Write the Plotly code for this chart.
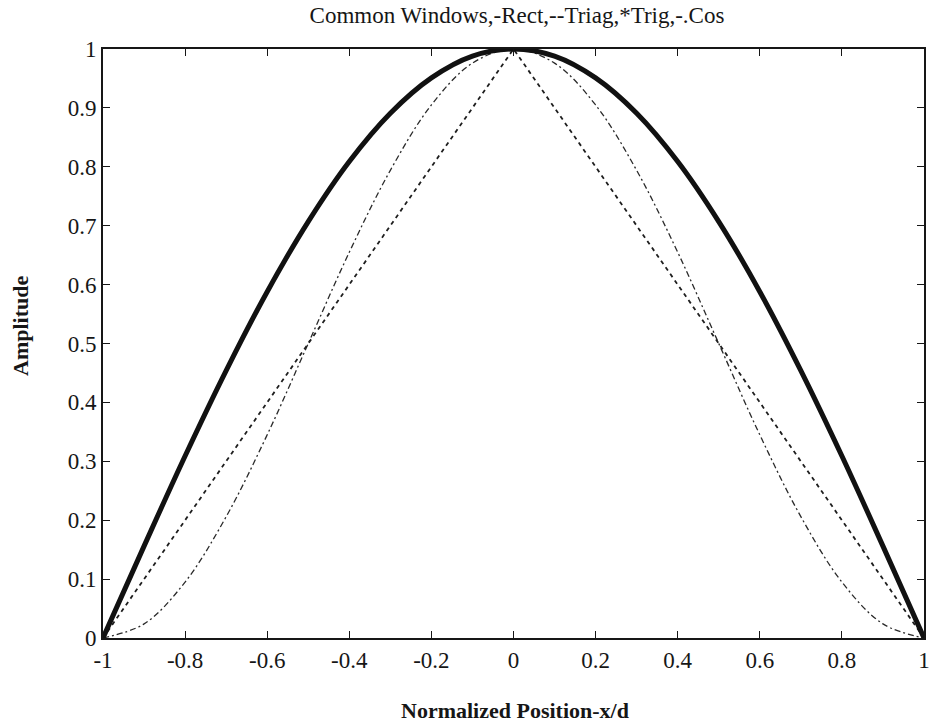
import plotly.graph_objects as go

# Sample positions along the normalized aperture
x_pos = [-1.0, -0.9, -0.8, -0.7, -0.6, -0.5, -0.4, -0.3, -0.2, -0.1, 0.0,
         0.1, 0.2, 0.3, 0.4, 0.5, 0.6, 0.7, 0.8, 0.9, 1.0]

# Trig (cosine) window - heavy solid curve
trig_win = [0.0, 0.156, 0.309, 0.454, 0.588, 0.707, 0.809, 0.891, 0.951, 0.988, 1.0,
            0.988, 0.951, 0.891, 0.809, 0.707, 0.588, 0.454, 0.309, 0.156, 0.0]

# Triangular window - dashed
triag_win = [0.0, 0.1, 0.2, 0.3, 0.4, 0.5, 0.6, 0.7, 0.8, 0.9, 1.0,
             0.9, 0.8, 0.7, 0.6, 0.5, 0.4, 0.3, 0.2, 0.1, 0.0]

# Raised-cosine window - dash-dot
cos_win = [0.0, 0.024, 0.095, 0.206, 0.345, 0.5, 0.655, 0.794, 0.905, 0.976, 1.0,
           0.976, 0.905, 0.794, 0.655, 0.5, 0.345, 0.206, 0.095, 0.024, 0.0]

x_ticks = [-1, -0.8, -0.6, -0.4, -0.2, 0, 0.2, 0.4, 0.6, 0.8, 1]
x_tick_text = ["-1", "-0.8", "-0.6", "-0.4", "-0.2", "0", "0.2", "0.4", "0.6", "0.8", "1"]
y_ticks = [0, 0.1, 0.2, 0.3, 0.4, 0.5, 0.6, 0.7, 0.8, 0.9, 1]
y_tick_text = ["0", "0.1", "0.2", "0.3", "0.4", "0.5", "0.6", "0.7", "0.8", "0.9", "1"]

FONT = "Liberation Serif"
INK = "#161616"

W, H = 931, 723
ML, MR, MT, MB = 103, 7, 49, 85

fig = go.Figure()
fig.add_trace(go.Scatter(x=x_pos, y=cos_win, mode="lines", line_shape="spline",
                         line=dict(color="#2a2a2a", width=1.3, dash="6px,3px,2px,3px"),
                         showlegend=False))
fig.add_trace(go.Scatter(x=x_pos, y=triag_win, mode="lines",
                         line=dict(color="#1e1e1e", width=1.8, dash="4px,4px"),
                         showlegend=False))
fig.add_trace(go.Scatter(x=x_pos, y=trig_win, mode="lines", line_shape="spline",
                         line=dict(color="#111111", width=5),
                         showlegend=False))

fig.update_layout(
    width=W, height=H,
    margin=dict(l=ML, r=MR, t=MT, b=MB, autoexpand=False),
    paper_bgcolor="white", plot_bgcolor="white",
    font=dict(family=FONT, size=23, color=INK),
    title=dict(text="Common Windows,-Rect,--Triag,*Trig,-.Cos",
               x=517 / W, xanchor="center", y=1 - 15 / H, yanchor="middle",
               font=dict(family=FONT, size=23, color=INK)),
    annotations=[
        dict(text="<b>Normalized Position-x/d</b>", xref="paper", yref="paper",
             x=(515 - ML) / (W - ML - MR), y=-(710 - (H - MB)) / (H - MT - MB),
             xanchor="center", yanchor="middle", showarrow=False,
             font=dict(family=FONT, size=22, color=INK)),
        dict(text="<b>Amplitude</b>", xref="paper", yref="paper",
             x=-(ML - 20) / (W - ML - MR), y=((H - MB) - 326) / (H - MT - MB),
             xanchor="center", yanchor="middle", showarrow=False, textangle=-90,
             font=dict(family=FONT, size=22, color=INK)),
    ],
)
fig.update_xaxes(
    range=[-1, 1], tickvals=x_ticks, ticktext=x_tick_text,
    showgrid=False, zeroline=False,
    showline=True, linecolor=INK, linewidth=2, mirror="ticks",
    ticks="inside", ticklen=7, tickcolor=INK, tickwidth=1.3,
    tickfont=dict(family=FONT, size=23, color=INK),
    ticklabeloverflow="allow",
)
fig.update_yaxes(
    range=[0, 1], tickvals=y_ticks, ticktext=y_tick_text,
    showgrid=False, zeroline=False,
    showline=True, linecolor=INK, linewidth=2, mirror="ticks",
    ticks="inside", ticklen=7, tickcolor=INK, tickwidth=1.3,
    tickfont=dict(family=FONT, size=23, color=INK),
    ticklabeloverflow="allow",
)

fig.write_html("out.html")
